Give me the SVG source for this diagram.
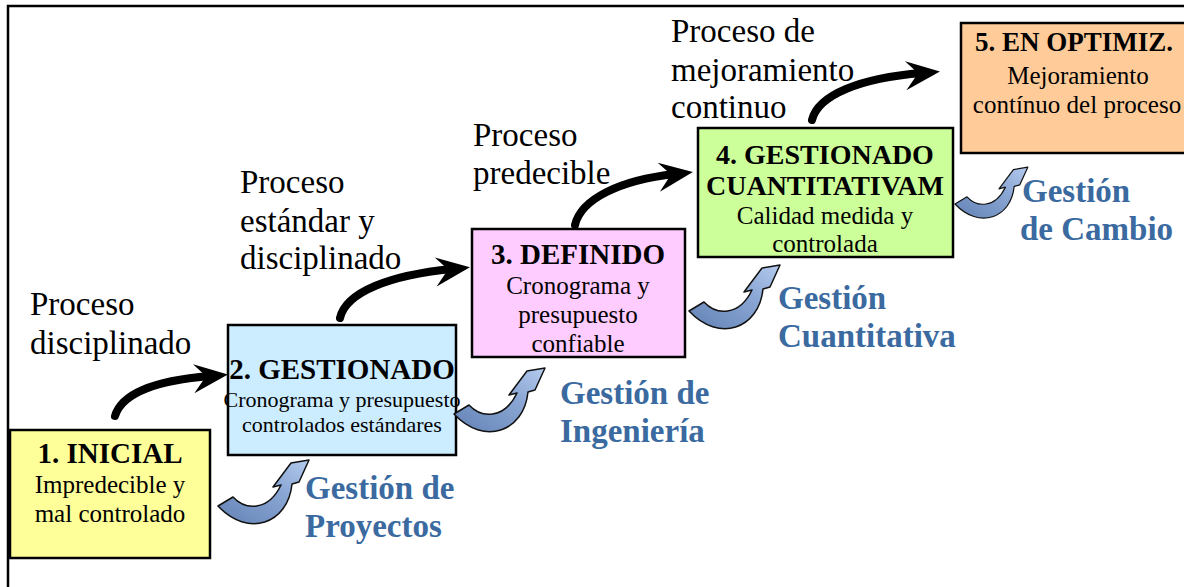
<svg xmlns="http://www.w3.org/2000/svg" width="1184" height="587" viewBox="0 0 1184 587">
<style>
.box{stroke:#000;stroke-width:2.5}
.t{font-family:"Liberation Serif","Times New Roman",serif;fill:#000}
.ttl{font-weight:bold;text-anchor:middle}
.body{text-anchor:middle}
.lbl{font-family:"Liberation Serif","Times New Roman",serif;font-size:33px;fill:#000}
.blue{font-family:"Liberation Serif","Times New Roman",serif;font-size:33px;font-weight:bold;fill:#3a6a9f}
.shaft{fill:none;stroke:#000;stroke-width:8;stroke-linecap:round}
.barrow{fill:url(#bg);stroke:#111;stroke-width:1.5;stroke-linejoin:round}
</style>
<defs>
<marker id="bh" markerUnits="userSpaceOnUse" markerWidth="40" markerHeight="34" viewBox="-40 -17 40 34" refX="-18" refY="0" orient="auto">
<path d="M0,0 L-34,-13 L-22,0 L-35,16 Z" fill="#000"/>
</marker>
<linearGradient id="bg" x1="0" y1="1" x2="1" y2="0">
<stop offset="0" stop-color="#6383b5"/>
<stop offset="0.6" stop-color="#8aa6d4"/>
<stop offset="1" stop-color="#b5cbee"/>
</linearGradient>
<path id="ba" class="barrow" d="M0,0 L15,-9 C27,4 50,6 63,-21 L55,-19 L73,-43 L91,-46 L81,-24 L74,-22 C70,18 30,32 0,0 Z"/>
</defs>
<rect x="0" y="0" width="1184" height="587" fill="#fff"/>
<path d="M8,587 L8,6 L1184,6" fill="none" stroke="#000" stroke-width="2.5"/>

<g id="n1">
<rect class="box" x="10" y="430" width="200" height="128" fill="#ffff99"/>
<text class="t ttl" x="110" y="463" font-size="29">1. INICIAL</text>
<text class="t body" x="110" y="493" font-size="25">Impredecible y</text>
<text class="t body" x="110" y="522" font-size="25">mal controlado</text>
</g>
<g id="n2">
<rect class="box" x="228" y="325" width="228" height="130" fill="#ccecff"/>
<text class="t ttl" x="342" y="379" font-size="29">2. GESTIONADO</text>
<text class="t body" x="342" y="407" font-size="22">Cronograma y presupuesto</text>
<text class="t body" x="342" y="432" font-size="22">controlados estándares</text>
</g>
<g id="n3">
<rect class="box" x="472" y="229" width="213" height="128" fill="#ffccff"/>
<text class="t ttl" x="578" y="264" font-size="29">3. DEFINIDO</text>
<text class="t body" x="578" y="294" font-size="25">Cronograma y</text>
<text class="t body" x="578" y="323" font-size="25">presupuesto</text>
<text class="t body" x="578" y="352" font-size="25">confiable</text>
</g>
<g id="n4">
<rect class="box" x="698" y="128" width="255" height="129" fill="#ccff99"/>
<text class="t ttl" x="825" y="164" font-size="28">4. GESTIONADO</text>
<text class="t ttl" x="825" y="195" font-size="28">CUANTITATIVAM</text>
<text class="t body" x="825" y="224" font-size="25">Calidad medida y</text>
<text class="t body" x="825" y="252" font-size="25">controlada</text>
</g>
<g id="n5">
<rect class="box" x="961" y="23" width="232" height="130" fill="#ffcc99"/>
<text class="t ttl" x="1074" y="51" font-size="27">5. EN OPTIMIZ.</text>
<text class="t body" x="1078" y="84" font-size="25">Mejoramiento</text>
<text class="t body" x="1077" y="113" font-size="25">contínuo del proceso</text>
</g>

<g id="labels">
<text class="lbl" x="30" y="315">Proceso</text>
<text class="lbl" x="30" y="354">disciplinado</text>
<text class="lbl" x="240" y="193">Proceso</text>
<text class="lbl" x="240" y="232">estándar y</text>
<text class="lbl" x="240" y="269">disciplinado</text>
<text class="lbl" x="473" y="146">Proceso</text>
<text class="lbl" x="473" y="184">predecible</text>
<text class="lbl" x="671" y="42">Proceso de</text>
<text class="lbl" x="671" y="81">mejoramiento</text>
<text class="lbl" x="671" y="118">continuo</text>
<text class="blue" x="305" y="499">Gestión de</text>
<text class="blue" x="305" y="537">Proyectos</text>
<text class="blue" x="560" y="404">Gestión de</text>
<text class="blue" x="560" y="442">Ingeniería</text>
<text class="blue" x="778" y="309">Gestión</text>
<text class="blue" x="778" y="347">Cuantitativa</text>
<text class="blue" x="1022" y="202">Gestión</text>
<text class="blue" x="1020" y="240">de Cambio</text>
</g>

<g id="connectors">
<path class="shaft" d="M115,416 C122,392 160,380 210,376" marker-end="url(#bh)"/>
<path class="shaft" d="M340,318 C346,292 390,275 452,269" marker-end="url(#bh)"/>
<path class="shaft" d="M575,225 C581,199 620,180 675,174" marker-end="url(#bh)"/>
<path class="shaft" d="M812,120 C818,95 860,78 922,73" marker-end="url(#bh)"/>
<use href="#ba" transform="translate(218,506)"/>
<use href="#ba" transform="translate(454,414)"/>
<use href="#ba" transform="translate(689,311)"/>
<use href="#ba" transform="translate(955,204) scale(0.8)"/>
</g>
</svg>
